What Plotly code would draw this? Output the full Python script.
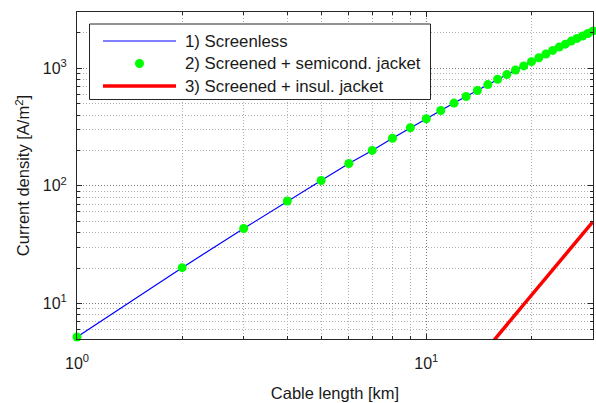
import math
import plotly.graph_objects as go

# Cable length [km]
cable_km = list(range(1, 31))

# 1) Screenless
screenless = [5.2, 20.2, 43.4, 74.3, 111, 155, 200, 254, 312, 372,
              437, 505, 575, 646, 725, 805, 882, 965, 1045, 1135,
              1225, 1318, 1415, 1510, 1600, 1698, 1790, 1875, 1970, 2070]

# 2) Screened + semicond. jacket
semicond = [5.2, 20.2, 43.4, 74.3, 111, 155, 200, 254, 312, 372,
            437, 505, 575, 646, 725, 805, 882, 965, 1045, 1135,
            1225, 1318, 1415, 1510, 1600, 1698, 1790, 1875, 1970, 2070]

# 3) Screened + insul. jacket
insul_km = list(range(14, 31))
insul = [3.3, 4.25, 5.34, 6.62, 8.10, 9.82, 11.8, 14.0, 16.5, 19.4,
         22.5, 26.0, 29.9, 34.2, 38.9, 44.1, 49.7]

legend_labels = ["1) Screenless", "2) Screened + semicond. jacket", "3) Screened + insul. jacket"]

W, H = 596, 403
ML, MR, MT, MB = 77, 3, 12, 64
PW, PH = W - ML - MR, H - MT - MB

FONT = "Liberation Sans, Arial, sans-serif"
BLUE, GREEN, RED = "#0000ff", "#00ff00", "#ff0000"


def px(x):
    return (x - ML) / PW


def py(y):
    return (H - MB - y) / PH


fig = go.Figure()
fig.add_trace(go.Scatter(x=cable_km, y=screenless, mode="lines",
                         line=dict(color=BLUE, width=1.2), showlegend=False))
fig.add_trace(go.Scatter(x=cable_km, y=semicond, mode="markers",
                         marker=dict(color=GREEN, size=9, line=dict(width=0)),
                         cliponaxis=False, showlegend=False))
fig.add_trace(go.Scatter(x=insul_km, y=insul, mode="lines",
                         line=dict(color=RED, width=3.5), showlegend=False))

minor_x = [d * 10 ** e for e in range(0, 2) for d in range(2, 10)] + [20, 30]
minor_y = [d * 10 ** e for e in range(0, 4) for d in range(2, 10)]

axis_common = dict(
    type="log",
    showline=True, linecolor="#262626", linewidth=1, mirror="ticks",
    ticks="inside", ticklen=5, tickcolor="#262626",
    showgrid=True, gridcolor="#7a7a7a", griddash="1px,2px", gridwidth=1,
    zeroline=False,
    tickfont=dict(family=FONT, size=16, color="#1a1a1a"),
)

minor_style = dict(ticks="inside", ticklen=3, tickcolor="#262626",
                   showgrid=True, gridcolor="#b0b0b0", griddash="1px,2px", gridwidth=1)

fig.update_xaxes(
    **axis_common,
    range=[0, math.log10(30)],
    tickmode="array", tickvals=[1, 10],
    ticktext=["10<sup>0</sup>", "10<sup>1</sup>"],
    ticklabelstandoff=10,
    minor=dict(tickvals=minor_x, **minor_style),
    title=dict(text="Cable length [km]", font=dict(family=FONT, size=16.5, color="#1a1a1a"),
               standoff=16),
)
fig.update_yaxes(
    **axis_common,
    range=[math.log10(5), math.log10(3000)],
    tickmode="array", tickvals=[10, 100, 1000],
    ticktext=["10<sup>1</sup>", "10<sup>2</sup>", "10<sup>3</sup>"],
    ticklabelstandoff=6,
    minor=dict(tickvals=minor_y, **minor_style),
    title=dict(text="Current density [A/m<sup>2</sup>]",
               font=dict(family=FONT, size=16.5, color="#1a1a1a"), standoff=8),
)

# Legend drawn as a boxed key in the upper-left corner
shapes = [dict(type="rect", xref="paper", yref="paper",
               x0=px(89.5), x1=px(430.5), y0=py(99.5), y1=py(24),
               line=dict(color="#262626", width=1), fillcolor="white", layer="above")]
rows = [41, 63.5, 86]
shapes.append(dict(type="line", xref="paper", yref="paper",
                   x0=px(103), x1=px(176), y0=py(rows[0]), y1=py(rows[0]),
                   line=dict(color=BLUE, width=1.2), layer="above"))
shapes.append(dict(type="circle", xref="paper", yref="paper",
                   x0=px(139.5 - 4.5), x1=px(139.5 + 4.5),
                   y0=py(rows[1] + 4.5), y1=py(rows[1] - 4.5),
                   line=dict(width=0), fillcolor=GREEN, layer="above"))
shapes.append(dict(type="line", xref="paper", yref="paper",
                   x0=px(103), x1=px(176), y0=py(rows[2]), y1=py(rows[2]),
                   line=dict(color=RED, width=3.5), layer="above"))

annotations = []
for label, r in zip(legend_labels, rows):
    annotations.append(dict(text=label, xref="paper", yref="paper",
                            x=px(183), y=py(r), xanchor="left", yanchor="middle",
                            showarrow=False,
                            font=dict(family=FONT, size=16.8, color="#1a1a1a")))

fig.update_layout(
    width=W, height=H,
    margin=dict(l=ML, r=MR, t=MT, b=MB, autoexpand=False),
    paper_bgcolor="white", plot_bgcolor="white",
    showlegend=False,
    shapes=shapes, annotations=annotations,
)

fig.write_html("out.html")
